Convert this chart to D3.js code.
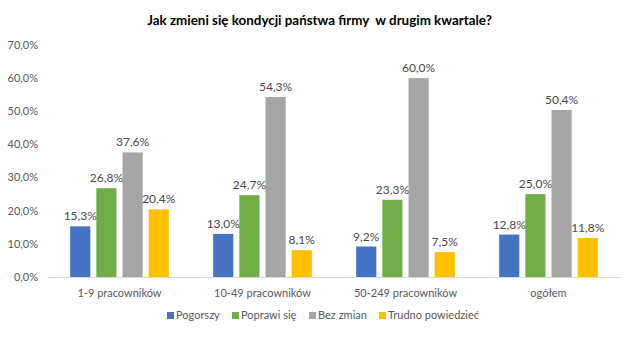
<!DOCTYPE html>
<html>
<head>
<meta charset="utf-8">
<script src="https://cdn.jsdelivr.net/npm/d3@7"></script>
<style>
  body { margin: 0; background: #fff; }
  svg { font-family: Lato, "Open Sans", sans-serif; }
</style>
</head>
<body>
<div class="chart"></div>
<script>
const categories = ['1-9 pracowników', '10-49 pracowników', '50-249 pracowników', 'ogółem']
const seriesNames = ['Pogorszy', 'Poprawi się', 'Bez zmian', 'Trudno powiedzieć']
const pogorszy = [15.3, 13.0, 9.2, 12.8]
const poprawi = [26.8, 24.7, 23.3, 25.0]
const bezZmian = [37.6, 54.3, 60.0, 50.4]
const trudno = [20.4, 8.1, 7.5, 11.8]
const yTicks = [0, 10, 20, 30, 40, 50, 60, 70]
const colors = ['#4472C4', '#70AD47', '#A5A5A5', '#FFC000']

const seriesValues = [pogorszy, poprawi, bezZmian, trudno]
const fmt = v => v.toFixed(1).replace('.', ',') + '%'

const width = 639
const height = 339
const margin = { top: 45, right: 19, bottom: 62, left: 48 }

const svg = d3.select('.chart').append('svg')
  .attr('width', width)
  .attr('height', height)

// Title
svg.append('text')
  .attr('x', width / 2)
  .attr('y', 25)
  .attr('text-anchor', 'middle')
  .attr('font-size', 13.4)
  .attr('font-weight', 'bold')
  .attr('fill', '#000')
  .attr('xml:space', 'preserve')
  .text('Jak zmieni się kondycji państwa firmy  w drugim kwartale?')

const x0 = d3.scaleBand()
  .domain(categories)
  .range([margin.left, width - margin.right])
  .paddingInner(0.31)
  .paddingOuter(0.155)

const x1 = d3.scaleBand()
  .domain(seriesNames)
  .range([0, x0.bandwidth()])
  .paddingInner(0.23)

const y = d3.scaleLinear()
  .domain([0, 70])
  .range([height - margin.bottom, margin.top])

// Y axis labels
svg.append('g')
  .selectAll('text')
  .data(yTicks)
  .enter()
  .append('text')
  .attr('x', 38)
  .attr('y', d => y(d))
  .attr('dy', '0.35em')
  .attr('text-anchor', 'end')
  .attr('font-size', 11)
  .attr('fill', '#595959')
  .text(d => fmt(d))

// Bars
const groups = svg.append('g')
  .selectAll('g')
  .data(categories)
  .enter()
  .append('g')
  .attr('transform', d => `translate(${x0(d)},0)`)

groups.selectAll('rect')
  .data((d, i) => seriesNames.map((s, j) => ({ s, j, v: seriesValues[j][i] })))
  .enter()
  .append('rect')
  .attr('x', d => x1(d.s))
  .attr('y', d => y(d.v))
  .attr('width', x1.bandwidth())
  .attr('height', d => y(0) - y(d.v))
  .attr('fill', d => colors[d.j])

groups.selectAll('text')
  .data((d, i) => seriesNames.map((s, j) => ({ s, j, v: seriesValues[j][i] })))
  .enter()
  .append('text')
  .attr('x', d => x1(d.s) + x1.bandwidth() / 2)
  .attr('y', d => y(d.v) - 6)
  .attr('text-anchor', 'middle')
  .attr('font-size', 12)
  .attr('fill', '#4a4a4a')
  .text(d => fmt(d.v))

// Baseline
svg.append('line')
  .attr('x1', margin.left)
  .attr('x2', width - margin.right)
  .attr('y1', y(0) + 0.5)
  .attr('y2', y(0) + 0.5)
  .attr('stroke', '#D9D9D9')
  .attr('stroke-width', 1)

// Category labels
svg.append('g')
  .selectAll('text')
  .data(categories)
  .enter()
  .append('text')
  .attr('x', d => x0(d) + x0.bandwidth() / 2)
  .attr('y', y(0) + 20)
  .attr('text-anchor', 'middle')
  .attr('font-size', 11)
  .attr('fill', '#595959')
  .text(d => d)

// Legend
const legendX = [167, 232, 309, 379]
const legend = svg.append('g')
  .selectAll('g')
  .data(seriesNames)
  .enter()
  .append('g')
  .attr('transform', (d, i) => `translate(${legendX[i]},319)`)

legend.append('rect')
  .attr('x', 0)
  .attr('y', -7)
  .attr('width', 7)
  .attr('height', 7)
  .attr('fill', (d, i) => colors[i])

legend.append('text')
  .attr('x', 9)
  .attr('y', 0)
  .attr('font-size', 11)
  .attr('fill', '#595959')
  .text(d => d)
</script>
</body>
</html>
